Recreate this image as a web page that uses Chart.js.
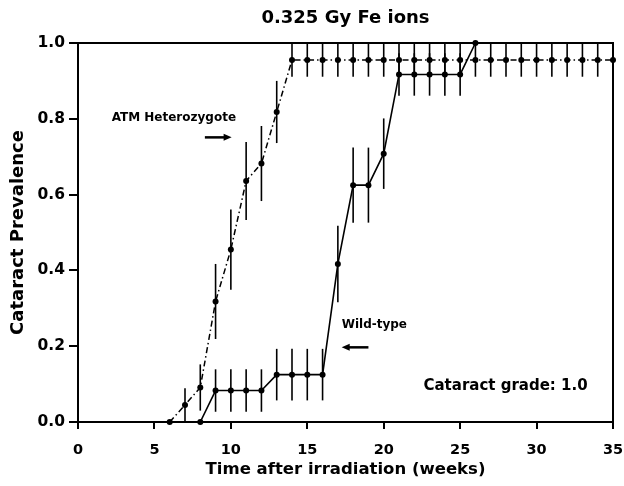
<!DOCTYPE html>
<html>
<head>
<meta charset="utf-8">
<script src="https://cdn.jsdelivr.net/npm/chart.js@4"></script>
<style>
  body { margin: 0; background: #fff; }
  canvas { display: block; }
</style>
</head>
<body>
<canvas id="myChart" width="624" height="486"></canvas>
<script>
// weeks after irradiation
const hetWeeks = [6, 7, 8, 9, 10, 11, 12, 13, 14, 15, 16, 17, 18, 19, 20, 21, 22, 23, 24, 25, 26, 27, 28, 29, 30, 31, 32, 33, 34, 35];
const hetValues = [0, 0.045, 0.091, 0.318, 0.455, 0.636, 0.682, 0.818,
  0.955, 0.955, 0.955, 0.955, 0.955, 0.955, 0.955, 0.955, 0.955, 0.955, 0.955, 0.955, 0.955,
  0.955, 0.955, 0.955, 0.955, 0.955, 0.955, 0.955, 0.955, 0.955];
const hetErrors = [0, 0.044, 0.061, 0.099, 0.106, 0.103, 0.099, 0.082,
  0.044, 0.044, 0.044, 0.044, 0.044, 0.044, 0.044, 0.044, 0.044, 0.044, 0.044, 0.044, 0.044,
  0.044, 0.044, 0.044, 0.044, 0.044, 0.044, 0.044, 0.044, 0.044];

const wildWeeks = [8, 9, 10, 11, 12, 13, 14, 15, 16, 17, 18, 19, 20, 21, 22, 23, 24, 25, 26];
const wildValues = [0, 0.083, 0.083, 0.083, 0.083, 0.125, 0.125, 0.125, 0.125,
  0.417, 0.625, 0.625, 0.708, 0.917, 0.917, 0.917, 0.917, 0.917, 1.0];
const wildErrors = [0, 0.056, 0.056, 0.056, 0.056, 0.068, 0.068, 0.068, 0.068,
  0.101, 0.099, 0.099, 0.093, 0.056, 0.056, 0.056, 0.056, 0.056, 0];

const xTicks = [0, 5, 10, 15, 20, 25, 30, 35];
const yTicks = [0, 0.2, 0.4, 0.6, 0.8, 1.0];

const FONT = "'DejaVu Sans', sans-serif";

function toPoints(xs, ys) {
  return xs.map(function (x, i) { return { x: x, y: ys[i] }; });
}

const errorBars = {
  id: 'errorBars',
  beforeDatasetsDraw: function (chart) {
    const ctx = chart.ctx;
    const ys = chart.scales.y;
    ctx.save();
    ctx.strokeStyle = '#000';
    ctx.lineWidth = 1.6;
    chart.data.datasets.forEach(function (ds, di) {
      const meta = chart.getDatasetMeta(di);
      ds.errors.forEach(function (e, i) {
        if (!e) return;
        const px = meta.data[i].x;
        const v = ds.data[i].y;
        ctx.beginPath();
        ctx.moveTo(px, ys.getPixelForValue(Math.min(1, v + e)));
        ctx.lineTo(px, ys.getPixelForValue(v - e));
        ctx.stroke();
      });
    });
    ctx.restore();
  }
};

const frame = {
  id: 'frame',
  afterDraw: function (chart) {
    const a = chart.chartArea;
    const ctx = chart.ctx;
    ctx.save();
    ctx.strokeStyle = '#000';
    ctx.lineWidth = 2;
    ctx.beginPath();
    ctx.moveTo(a.left, a.top);
    ctx.lineTo(a.right, a.top);
    ctx.lineTo(a.right, a.bottom);
    ctx.stroke();
    ctx.restore();
  }
};

function arrow(ctx, x1, x2, y) {
  const dir = x2 > x1 ? 1 : -1;
  ctx.beginPath();
  ctx.moveTo(x1, y);
  ctx.lineTo(x2 - dir * 6, y);
  ctx.lineWidth = 2.5;
  ctx.stroke();
  ctx.beginPath();
  ctx.moveTo(x2, y);
  ctx.lineTo(x2 - dir * 8, y - 3.5);
  ctx.lineTo(x2 - dir * 8, y + 3.5);
  ctx.closePath();
  ctx.fill();
}

const notes = {
  id: 'notes',
  afterDraw: function (chart) {
    const ctx = chart.ctx;
    const xs = chart.scales.x, ys = chart.scales.y;
    ctx.save();
    ctx.fillStyle = '#000';
    ctx.strokeStyle = '#000';
    ctx.textBaseline = 'middle';
    ctx.textAlign = 'left';
    ctx.font = 'bold 12px ' + FONT;
    ctx.fillText('ATM Heterozygote', xs.getPixelForValue(2.2), ys.getPixelForValue(0.803));
    arrow(ctx, xs.getPixelForValue(8.3), xs.getPixelForValue(10.05), ys.getPixelForValue(0.751));
    ctx.fillText('Wild-type', xs.getPixelForValue(17.25), ys.getPixelForValue(0.255));
    arrow(ctx, xs.getPixelForValue(19.0), xs.getPixelForValue(17.25), ys.getPixelForValue(0.197));
    ctx.font = 'bold 15px ' + FONT;
    ctx.fillText('Cataract grade: 1.0', xs.getPixelForValue(22.6), ys.getPixelForValue(0.094));
    ctx.restore();
  }
};

const ctx = document.getElementById('myChart').getContext('2d');
new Chart(ctx, {
  type: 'line',
  data: {
    datasets: [{
      label: 'ATM Heterozygote',
      data: toPoints(hetWeeks, hetValues),
      errors: hetErrors,
      borderColor: '#000',
      backgroundColor: '#000',
      borderWidth: 1.5,
      borderDash: [6, 3, 1.5, 3],
      pointRadius: 3,
      pointBorderWidth: 0,
      tension: 0,
      clip: false
    }, {
      label: 'Wild-type',
      data: toPoints(wildWeeks, wildValues),
      errors: wildErrors,
      borderColor: '#000',
      backgroundColor: '#000',
      borderWidth: 1.6,
      pointRadius: 3,
      pointBorderWidth: 0,
      tension: 0,
      clip: false
    }]
  },
  options: {
    responsive: false,
    animation: false,
    devicePixelRatio: 1,
    layout: { padding: { left: 0, right: 11, top: 0, bottom: 0 } },
    scales: {
      x: {
        type: 'linear',
        min: 0, max: 35,
        afterBuildTicks: function (s) { s.ticks = xTicks.map(function (v) { return { value: v }; }); },
        afterFit: function (s) { s.height = 64; s.paddingRight = 11; s.paddingLeft = 0; },
        ticks: { color: '#000', font: { family: FONT, weight: 'bold', size: 14.5 }, padding: 13 },
        grid: { drawOnChartArea: false, color: '#000', lineWidth: 2, tickLength: 7 },
        border: { color: '#000', width: 2 },
        title: { display: true, text: 'Time after irradiation (weeks)', color: '#000',
          font: { family: FONT, weight: 'bold', size: 16.5 }, padding: { top: 4, bottom: 6 } }
      },
      y: {
        min: 0, max: 1,
        afterBuildTicks: function (s) { s.ticks = yTicks.map(function (v) { return { value: v }; }); },
        afterFit: function (s) { s.width = 78; },
        ticks: { color: '#000', font: { family: FONT, weight: 'bold', size: 15.5 }, padding: 4,
          callback: function (v) { return v.toFixed(1); } },
        grid: { drawOnChartArea: false, color: '#000', lineWidth: 2, tickLength: 9 },
        border: { color: '#000', width: 2 },
        title: { display: true, text: 'Cataract Prevalence', color: '#000',
          font: { family: FONT, weight: 'bold', size: 18 }, padding: { top: 8, bottom: 4 } }
      }
    },
    plugins: {
      legend: { display: false },
      tooltip: { enabled: false },
      title: { display: true, fullSize: false, text: '0.325 Gy Fe ions', color: '#000',
        font: { family: FONT, weight: 'bold', size: 18 }, padding: { top: 8, bottom: 13.4 } }
    }
  },
  plugins: [errorBars, frame, notes]
});
</script>
</body>
</html>
